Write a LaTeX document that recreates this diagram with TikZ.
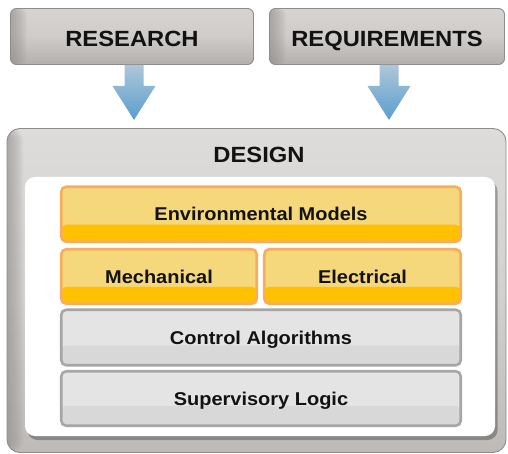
\documentclass[tikz,border=0pt]{standalone}
\usepackage{fontspec}
\setmainfont[FakeStretch=1.08]{Liberation Sans}
\usetikzlibrary{calc,shadows}

\definecolor{tBord}{HTML}{8E8C8B}
\definecolor{tTop}{HTML}{D6D4D2}
\definecolor{tMid}{HTML}{CFCCCA}
\definecolor{tBot}{HTML}{B3B0AE}
\definecolor{tEdge}{HTML}{8F8C8A}
\definecolor{dTop}{HTML}{DEDCDB}
\definecolor{dMid}{HTML}{D3D1CF}
\definecolor{dBot}{HTML}{BDBAB8}
\definecolor{aTop}{HTML}{AEC6D8}
\definecolor{aBot}{HTML}{5A9ECE}
\definecolor{yFill}{HTML}{F5D77C}
\definecolor{yStrip}{HTML}{FFC000}
\definecolor{yBord}{HTML}{F6AE5E}
\definecolor{gFill}{HTML}{E4E4E4}
\definecolor{gStrip}{HTML}{D8D8D8}
\definecolor{gBord}{HTML}{A6A6A6}

\newcommand\blkarrow[2]{%
  \path[arrowshade]
    ($(#1)+(#2-9.5,0)$) -- ($(#1)+(#2-9.5,21)$) -- ($(#1)+(#2-21.5,21)$)
    -- ($(#1)+(#2,55)$) -- ($(#1)+(#2+21.5,21)$) -- ($(#1)+(#2+9.5,21)$)
    -- ($(#1)+(#2+9.5,0)$) -- cycle;}

\begin{document}
\begin{tikzpicture}[x=1pt,y=-1pt,
  leftfade/.style={path picture={\foreach \k in {1,...,9}{\fill[#1, opacity=0.09]
      (path picture bounding box.north west) rectangle
      ([xshift={1.8*\k*1pt}]path picture bounding box.south west);}}},
  tbox/.style={draw=tBord, line width=0.9pt, rounded corners=6pt,
    top color=tTop, bottom color=tBot, middle color=tMid,
    leftfade=tEdge, inner sep=0pt,
    font=\fontsize{22}{26}\selectfont\bfseries, text=black!93,
    text height=15.8pt, text depth=0pt},
  dbox/.style={draw=tBord, line width=0.9pt, rounded corners=13pt,
    top color=dTop, bottom color=dBot, middle color=dMid,
    leftfade=tEdge, inner sep=0pt},
  wbox/.style={fill=white, rounded corners=10pt, inner sep=0pt,
    drop shadow={shadow xshift=2.5pt, shadow yshift=-4pt, fill=black, opacity=0.28}},
  lab/.style={font=\fontsize{18.5}{22}\selectfont\bfseries, text=black!93,
    text height=13.3pt, text depth=0pt},
  ybox/.style={lab, draw=yBord, line width=2.6pt, rounded corners=5pt, fill=yFill,
    inner sep=0pt,
    path picture={\fill[yStrip] ([yshift=17pt]path picture bounding box.south west)
      rectangle (path picture bounding box.south east);}},
  gbox/.style={lab, draw=gBord, line width=2.6pt, rounded corners=5pt, fill=gFill,
    inner sep=0pt,
    path picture={\fill[gStrip] ([yshift=20pt]path picture bounding box.south west)
      rectangle (path picture bounding box.south east);}},
  arrowshade/.style={top color=aTop, bottom color=aBot}
]
\useasboundingbox (0,0) rectangle (508,454);

\node[tbox, minimum width=243pt, minimum height=56pt] (research) at (132,36.5) {\raisebox{-2pt}{RESEARCH}};
\node[tbox, minimum width=235pt, minimum height=56pt] (requirements) at (387,36.5) {\raisebox{-2pt}{REQUIREMENTS}};

\node[dbox, minimum width=499pt, minimum height=324pt] (design) at (256.5,290.5) {};
\node[font=\fontsize{22}{26}\selectfont\bfseries, text=black!93] (designlabel) at (259,155) {DESIGN};

\blkarrow{research.south}{2}
\blkarrow{requirements.south}{2}

\node[wbox, minimum width=470pt, minimum height=259pt] (inner) at (260,306.5) {};

\node[ybox, minimum width=399.5pt, minimum height=55pt] (env) at (261,214.25) {Environmental Models};
\node[ybox, minimum width=195.5pt, minimum height=54.5pt] (mech) at (159,276.5) {Mechanical};
\node[ybox, minimum width=196.5pt, minimum height=54.5pt] (elec) at (362.5,276.5) {Electrical};
\node[gbox, minimum width=399.5pt, minimum height=55.5pt] (ctrl) at (261,337.5) {Control Algorithms};
\node[gbox, minimum width=399.5pt, minimum height=54.5pt] (sup) at (261,398.5) {Supervisory Logic};
\end{tikzpicture}
\end{document}
